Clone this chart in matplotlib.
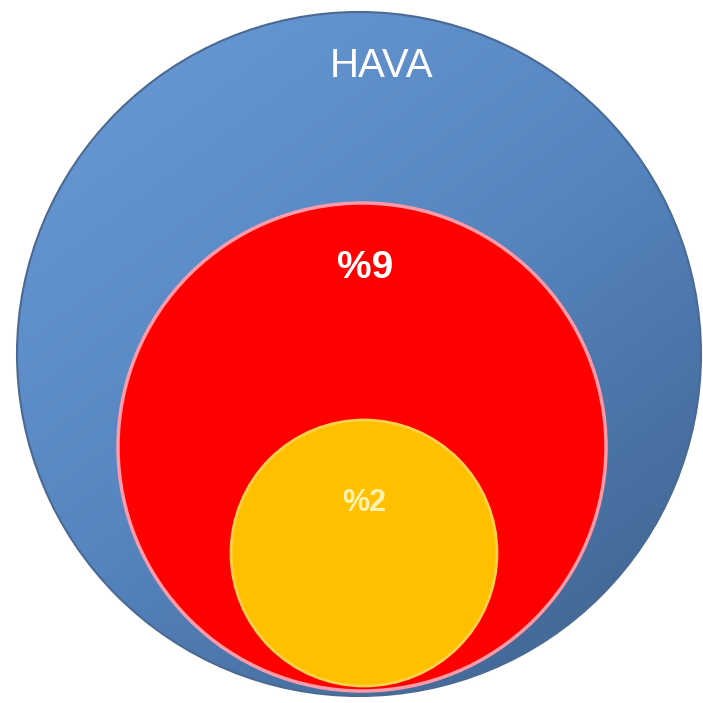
import numpy as np
import matplotlib.pyplot as plt
from matplotlib.patches import Circle
from matplotlib.colors import LinearSegmentedColormap

# nested circles: outer -> inner
labels = ["HAVA", "%9", "%2"]
radii = [342, 244, 133]

fig = plt.figure(figsize=(7.03, 7.03), dpi=100)
ax = fig.add_axes([0, 0, 1, 1])
ax.set_xlim(0, 703)
ax.set_ylim(703, 0)
ax.set_aspect("equal")
ax.axis("off")

# outer circle with blue gradient
outer = Circle((359, 354), radii[0], facecolor="none", edgecolor="#4a6a93", lw=1.5, zorder=2)
ax.add_patch(outer)
yy, xx = np.mgrid[0:703, 0:703]
g = (xx * 0.6 + yy * 0.8) / (703 * 1.4)
blues = LinearSegmentedColormap.from_list("b", ["#6c9dd8", "#5685c0", "#3d5f88"])
im = ax.imshow(g, cmap=blues, extent=(0, 703, 703, 0), zorder=1)
im.set_clip_path(outer)

# red circle
ax.add_patch(Circle((362, 447), radii[1], facecolor="#ff0000", edgecolor="#ff9aa8", lw=2.5, zorder=3))
# yellow circle
ax.add_patch(Circle((364, 553), radii[2], facecolor="#ffc000", edgecolor="#ffd04a", lw=2, zorder=4))

ax.text(382, 66, labels[0], color="white", fontsize=29, ha="center", va="center",
        family="Liberation Sans", zorder=5)
ax.text(365, 268, labels[1], color="white", fontsize=28, fontweight="bold", ha="center", va="center",
        family="Liberation Sans", zorder=5)
ax.text(364, 503, labels[2], color="#fff2b0", fontsize=22, fontweight="bold", ha="center", va="center",
        family="Liberation Sans", zorder=5)

fig.savefig("out.png", dpi=100)
